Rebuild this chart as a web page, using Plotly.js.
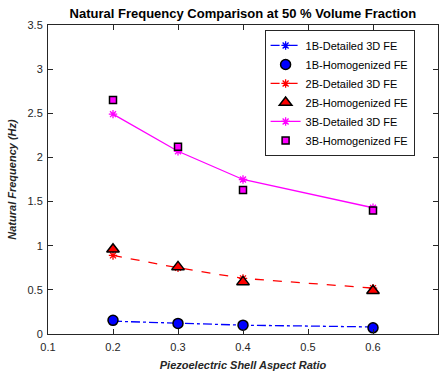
<!DOCTYPE html>
<html>
<head>
<meta charset="utf-8">
<script src="https://cdn.plot.ly/plotly-3.0.1.min.js"></script>
<style>html,body{margin:0;padding:0;background:#fff;}#chart{width:444px;height:372px;}</style>
</head>
<body>
<div id="chart"></div>
<script>
const aspectRatio = [0.2, 0.3, 0.4, 0.6];
const detailed1B = [0.145, 0.12, 0.10, 0.08];
const homog1B = [0.155, 0.12, 0.10, 0.07];
const detailed2B = [0.89, 0.75, 0.63, 0.52];
const homog2B = [0.96, 0.76, 0.59, 0.49];
const detailed3B = [2.49, 2.07, 1.75, 1.43];
const homog3B = [2.65, 2.12, 1.63, 1.40];
const seriesNames = ["1B-Detailed 3D FE","1B-Homogenized FE","2B-Detailed 3D FE","2B-Homogenized FE","3B-Detailed 3D FE","3B-Homogenized FE"];

const traces = [
  {x: aspectRatio, y: detailed1B, name: seriesNames[0], mode: 'lines+markers',
   line: {color: '#0000ff', dash: 'dashdot', width: 1.3},
   marker: {symbol: 'asterisk-open', size: 7, line: {color: '#0000ff', width: 1.3}}},
  {x: aspectRatio, y: homog1B, name: seriesNames[1], mode: 'markers',
   marker: {symbol: 'circle', size: 10, color: '#0000ff', line: {color: '#000', width: 1.5}}},
  {x: aspectRatio, y: detailed2B, name: seriesNames[2], mode: 'lines+markers',
   line: {color: '#ff0000', dash: 'dash', width: 1.3},
   marker: {symbol: 'asterisk-open', size: 7, line: {color: '#ff0000', width: 1.3}}},
  {x: aspectRatio, y: homog2B, name: seriesNames[3], mode: 'markers',
   marker: {symbol: 'triangle-up', size: 11, color: '#ff0000', line: {color: '#000', width: 1.5}}},
  {x: aspectRatio, y: detailed3B, name: seriesNames[4], mode: 'lines+markers',
   line: {color: '#ff00ff', width: 1.3},
   marker: {symbol: 'asterisk-open', size: 7, line: {color: '#ff00ff', width: 1.3}}},
  {x: aspectRatio, y: homog3B, name: seriesNames[5], mode: 'markers',
   marker: {symbol: 'square', size: 7, color: '#ff00ff', line: {color: '#000', width: 1.5}}}
];

const axisCommon = {
  showgrid: false, zeroline: false, showline: true, mirror: 'ticks',
  linecolor: '#262626', linewidth: 1, ticks: 'inside', ticklen: 5, tickcolor: '#262626',
  tickfont: {family: 'Liberation Sans, Arial, sans-serif', size: 11, color: '#262626'}
};

const layout = {
  width: 444, height: 372,
  margin: {l: 48, r: 6, t: 25, b: 38},
  paper_bgcolor: '#fff', plot_bgcolor: '#fff',
  font: {family: 'Liberation Sans, Arial, sans-serif', color: '#000'},
  title: {text: '<b>Natural Frequency Comparison at 50 % Volume Fraction</b>',
          font: {size: 13, color: '#000'}, x: 0.547, xanchor: 'center', y: 0.965, yanchor: 'middle'},
  xaxis: Object.assign({}, axisCommon, {
    range: [0.1, 0.7], dtick: 0.1, tick0: 0.1, ticklabelstandoff: 3,
    title: {text: '<b><i>Piezoelectric Shell Aspect Ratio</i></b>', font: {size: 11, color: '#262626'}, standoff: 9}
  }),
  yaxis: Object.assign({}, axisCommon, {
    range: [0, 3.5], dtick: 0.5, tick0: 0, ticklabelstandoff: 2,
    title: {text: '<b><i>Natural Frequency (Hz)</i></b>', font: {size: 11, color: '#262626'}, standoff: 8}
  }),
  legend: {
    x: 0.94, xanchor: 'right', y: 0.984, yanchor: 'top',
    bgcolor: '#fff', bordercolor: '#262626', borderwidth: 1,
    font: {size: 11, color: '#000'}, tracegroupgap: 0, itemwidth: 30
  },
  showlegend: true
};

Plotly.newPlot('chart', traces, layout, {staticPlot: true, displayModeBar: false});
</script>
</body>
</html>
